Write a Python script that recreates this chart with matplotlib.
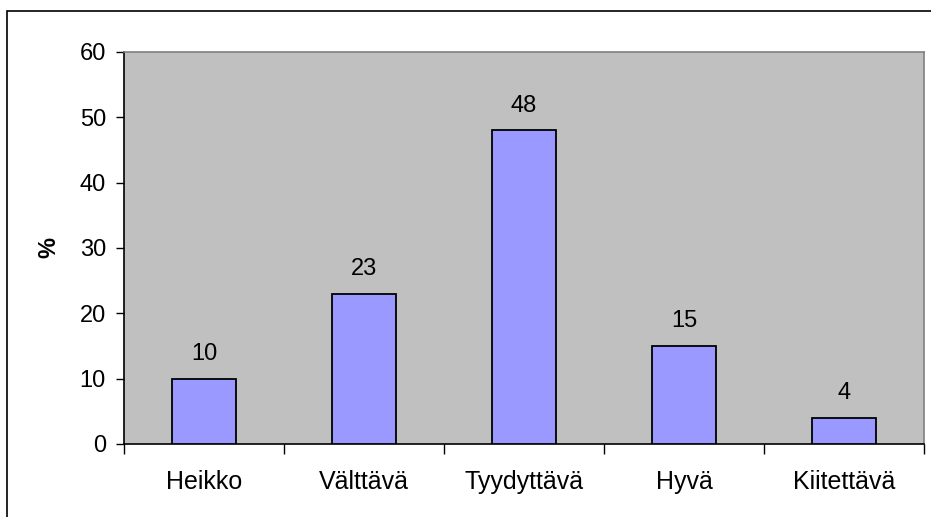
import matplotlib.pyplot as plt
import numpy as np
from matplotlib.patches import Rectangle

plt.rcParams['font.family'] = ['Liberation Sans', 'DejaVu Sans']

arvosanat = ['Heikko', 'Välttävä', 'Tyydyttävä', 'Hyvä', 'Kiitettävä']
osuudet = [10, 23, 48, 15, 4]
y_ticks = [0, 10, 20, 30, 40, 50, 60]

fig = plt.figure(figsize=(9.31, 5.17), dpi=100)
ax = fig.add_axes([124 / 931, 1 - 444 / 517, 800 / 931, 392 / 517])
ax.set_facecolor('#C0C0C0')

x = np.arange(len(arvosanat))
palkit = ax.bar(x, osuudet, width=0.4, color='#9999FF', edgecolor='black', linewidth=1.3, zorder=3)

# arvot palkkien päälle
for xi, v in zip(x, osuudet):
    ax.annotate(str(v), (xi, v), xytext=(0, 10), textcoords='offset points',
                ha='center', va='bottom', fontsize=17)

ax.set_xlim(-0.5, len(arvosanat) - 0.5)
ax.set_ylim(0, 60)
ax.set_yticks(y_ticks)
ax.set_xticks(x)
ax.set_xticklabels(arvosanat)
ax.set_xticks(np.arange(-0.5, len(arvosanat)), minor=True)
ax.tick_params(axis='x', which='major', length=0, pad=19, labelsize=18)
ax.tick_params(axis='x', which='minor', length=7, width=1, direction='out')
ax.tick_params(axis='y', length=6, width=1, direction='out', labelsize=17, pad=7)

ax.set_ylabel('%', fontsize=17, fontweight='bold', labelpad=14)

for s in ['top', 'right']:
    ax.spines[s].set_color('#808080')
    ax.spines[s].set_linewidth(1.2)
for s in ['left', 'bottom']:
    ax.spines[s].set_color('black')
    ax.spines[s].set_linewidth(1.2)

# kehys, oikea ja ala reuna jäävät kuvan ulkopuolelle
fig.patches.append(Rectangle((7 / 931, -10 / 517), 940 / 931, 516 / 517, transform=fig.transFigure,
                             fill=False, edgecolor='black', linewidth=1.2))

fig.savefig('out.png', dpi=100)
